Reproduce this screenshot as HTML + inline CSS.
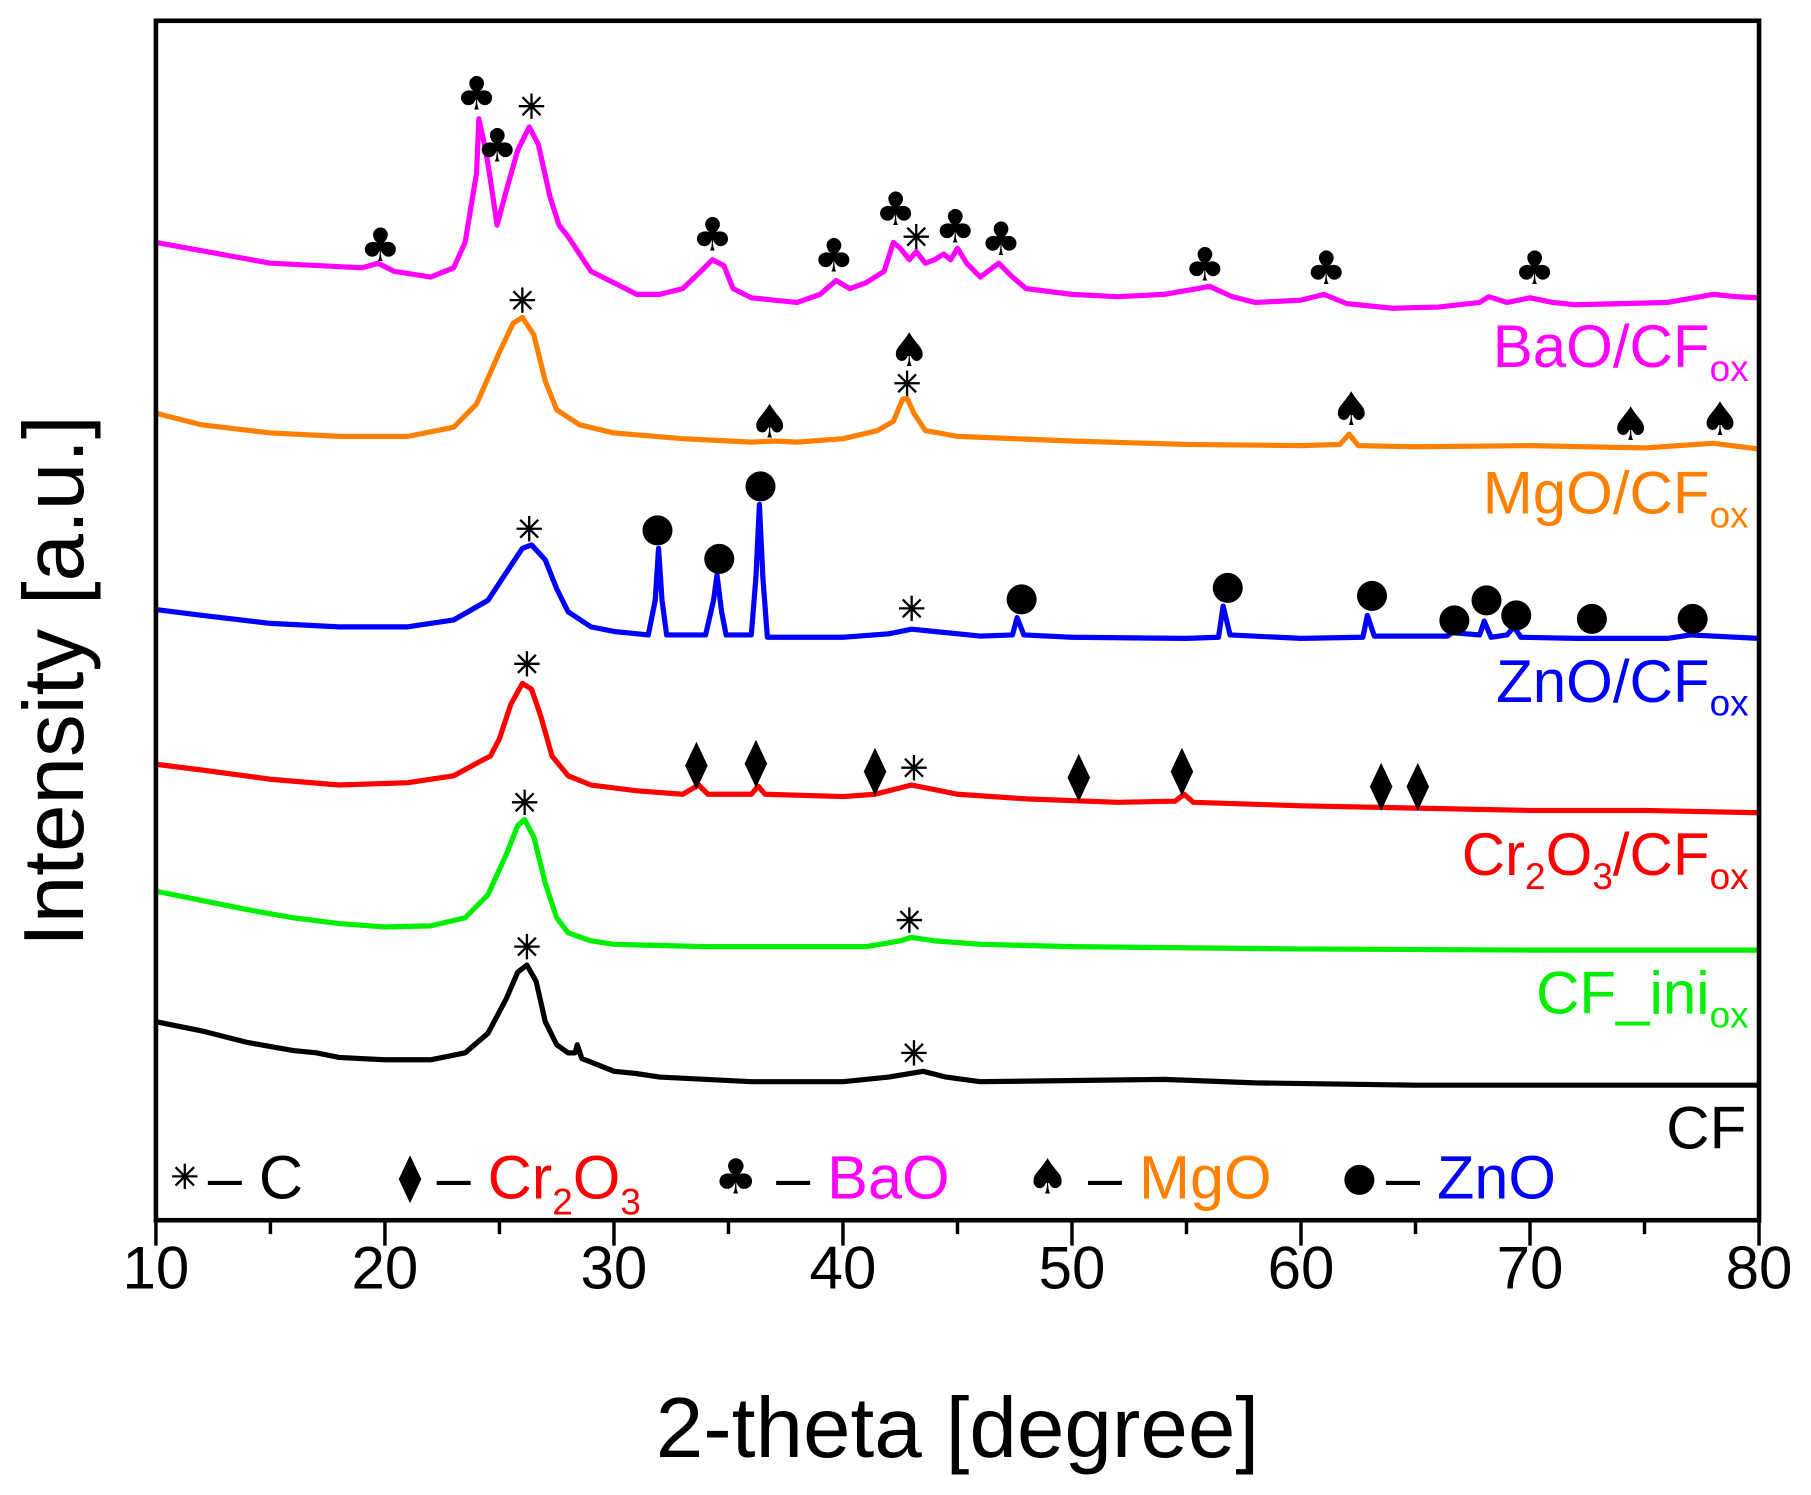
<!DOCTYPE html>
<html><head><meta charset="utf-8"><style>
html,body{margin:0;padding:0;background:#fff}
svg{display:block}
text{font-family:"Liberation Sans","DejaVu Sans",sans-serif}
.sym{font-family:"DejaVu Sans",sans-serif}
</style></head><body>
<svg id="chart" width="1811" height="1495" viewBox="0 0 1568 1295" preserveAspectRatio="none" xmlns="http://www.w3.org/2000/svg">
<g id="marks"></g>
<g id="axes"></g>
</svg>
<script>
// ---- data (2-theta, intensity a.u.; series are offset-stacked) ----
const baoX=[10,15,19,19.7,20.4,22,23,23.5,24,24.1,24.4,24.6,24.9,25.3,25.8,26.3,26.7,27.2,27.6,28,29,30,31,32,33,33.8,34.3,34.8,35.2,36,37,38,39,39.7,40.3,41,41.8,42.2,42.5,42.9,43.2,43.6,44,44.4,44.7,45,45.4,46,46.8,47.4,48,50,52,54,55.5,56,57,58,60,61,62,64,66,67.8,68.2,69,70,71,72,74,76,78,79,80];
const baoY=[847,829,825,829,822,817,825,847,907,954,927,902,862,892,927,947,932,887,862,852,822,812,802,802,807,822,832,827,807,799,797,795,802,814,807,812,822,847,842,832,839,829,832,837,832,842,829,817,829,817,807,802,800,802,807,809,800,795,797,802,794,790,791,795,800,795,799,795,793,794,795,802,800,799];
const mgoX=[10,12,15,18,21,23,24,25,25.6,26,26.5,27,27.5,28.5,30,33,36,37,38,40,41.5,42.2,42.6,42.8,43.1,43.6,45,50,55,60,61.7,62.1,62.5,65,70,75,78,80];
const mgoY=[699,689,682,679,679,687,707,752,777,782,767,727,702,689,682,677,674,675,674,677,684,692,711,712,699,684,679,675,672,671,672,681,671,670,671,669,673,668];
const znoX=[10,12,15,18,21,23,24.5,25.5,26,26.4,27,27.5,28,29,30,31.5,31.8,31.95,32.1,32.3,34,34.35,34.5,34.7,34.9,36,36.2,36.35,36.5,36.7,40,42,43,44,46,47.4,47.6,47.9,50,55,56.4,56.6,56.9,60,62.7,62.9,63.2,66.4,66.6,67.8,68,68.3,69,69.3,69.6,72,76,77,80];
const znoY=[529,524,517,514,514,520,537,567,582,585,572,547,527,514,510,507,537,582,537,507,507,537,559,527,507,507,557,620,557,505,505,508,512,510,506,507,522,507,505,504,505,532,507,504,505,524,506,506,509,507,519,505,507,514,505,504,504,507,504];
const crX=[10,12,15,18,21,23,24.3,24.6,25,25.5,26,26.4,26.8,27.3,28,29,31,33,33.7,34.1,36,36.3,36.6,40,41.4,42,43,44,45,48,52,54.5,54.9,55.3,60,65,70,75,80];
const crY=[395,390,382,377,379,385,399,402,417,447,465,460,437,402,385,377,372,369,377,369,369,376,369,367,369,372,377,373,369,365,362,363,369,362,359,357,355,355,353];
const iniX=[10,12,14,16,18,20,22,23.5,24.5,25.3,25.8,26.1,26.5,27,27.5,28,29,30,34,38,41,42.5,43,44,46,50,60,70,80];
const iniY=[285,277,269,262,257,254,255,262,282,317,342,347,332,292,262,249,242,239,237,237,237,242,245,242,239,237,235,234,234];
const cfX=[10,12,14,16,17,18,20,22,23.5,24.5,25.3,25.8,26.2,26.6,27,27.5,28,28.3,28.4,28.6,29,30,31,32,36,40,42,43.5,44.5,46,54,58,65,70,80];
const cfY=[172,164,154,147,145,141,139,139,145,162,192,215,221,207,172,152,145,145,152,140,137,129,127,124,120,120,124,129,124,120,122,119,117,117,117];
const xTicks=[10,20,30,40,50,60,70,80];
// markers: [2theta, intensity-position, symbol]
const markBao=[[19.8,844,"club"],[24.0,975,"club"],[24.9,930,"club"],[34.3,853,"club"],[39.6,835,"club"],[42.3,875,"club"],[44.9,860,"club"],[46.9,849,"club"],[55.8,827,"club"],[61.1,824,"club"],[70.2,824,"club"],[26.4,965,"star"],[43.2,852,"star"]];
const markMgo=[[26.0,797,"star"],[42.9,753,"spade"],[42.8,725,"star"],[36.8,691,"spade"],[62.2,702,"spade"],[74.4,689,"spade"],[78.3,693,"spade"]];
const markZno=[[26.3,599,"star"],[31.9,602,"dot"],[34.6,577,"dot"],[36.4,640,"dot"],[47.8,542,"dot"],[56.8,552,"dot"],[63.1,545,"dot"],[66.7,524,"dot"],[68.1,541,"dot"],[69.4,528,"dot"],[72.7,525,"dot"],[77.1,525,"dot"],[43.0,530,"star"]];
const markCr=[[26.2,482,"star"],[33.6,395,"diamond"],[36.2,397,"diamond"],[41.4,390,"diamond"],[50.3,385,"diamond"],[54.8,390,"diamond"],[63.5,377,"diamond"],[65.1,377,"diamond"],[43.1,392,"star"]];
const markIni=[[26.1,362,"star"],[42.9,260,"star"]];
const markCf=[[26.2,237,"star"],[43.1,145,"star"]];

// ---- axes ----
const L=135,R=1523,T=18,B=1057;
const xs=t=>L+(t-10)*(R-L)/70;
const ys=v=>B-v;
const NS="http://www.w3.org/2000/svg";
function mk(tag,attrs,parent){const e=document.createElementNS(NS,tag);for(const k in attrs)e.setAttribute(k,attrs[k]);parent.appendChild(e);return e;}
const marks=document.getElementById('marks'),axes=document.getElementById('axes');

function drawSeries(X,Y,color,name){
  let d=X.map((x,i)=>(i?'L':'M')+xs(x).toFixed(1)+','+ys(Y[i]).toFixed(1)).join('');
  const p=mk('path',{d:d,fill:'none',stroke:color,'stroke-width':4.5,'stroke-linejoin':'round'},marks);
  
  
}
drawSeries(baoX,baoY,'#ff00ff','bao-cfox-line');
drawSeries(mgoX,mgoY,'#ff8000','mgo-cfox-line');
drawSeries(znoX,znoY,'#0000ff','zno-cfox-line');
drawSeries(crX,crY,'#ff0000','cr2o3-cfox-line');
drawSeries(iniX,iniY,'#00ee00','cf-ini-line');
drawSeries(cfX,cfY,'#000000','cf-line');

const glyph={club:'\u2663',spade:'\u2660',diamond:'\u29EB',dot:'\u25CF'};
function star(cx,cy,s,parent){
  const g=mk('g',{stroke:'#000','stroke-width':2},parent);
  for(let a=0;a<4;a++){const an=a*Math.PI/4;mk('line',{x1:cx-s*Math.sin(an),y1:cy-s*Math.cos(an),x2:cx+s*Math.sin(an),y2:cy+s*Math.cos(an)},g);}
  return g;
}
function drawMarks(arr,name){
  arr.forEach(m=>{
    const x=xs(m[0]),y=ys(m[1]);let e;
    if(m[2]==='star'){e=star(x,y,11,marks);}
    else{e=mk('text',{x:x,y:y+13,'text-anchor':'middle','font-size':m[2]==='dot'?34:40,class:'sym',fill:'#000'},marks);e.textContent=glyph[m[2]];}
    
    
  });
}
drawMarks(markBao,'bao-peak-marker');drawMarks(markMgo,'mgo-peak-marker');drawMarks(markZno,'zno-peak-marker');
drawMarks(markCr,'cr2o3-peak-marker');drawMarks(markIni,'cf-ini-peak-marker');drawMarks(markCf,'cf-peak-marker');

// frame
const fr=mk('rect',{x:L,y:T,width:R-L,height:B-T,fill:'none',stroke:'#000','stroke-width':4},axes);


for(let t=10;t<=80;t+=5){
  const maj=t%10===0;
  const tk=mk('line',{x1:xs(t),x2:xs(t),y1:B,y2:B+(maj?22:12),stroke:'#000','stroke-width':3},axes);
  
  
}
xTicks.forEach(t=>{
  const tx=mk('text',{x:xs(t),y:1116,'text-anchor':'middle','font-size':52,fill:'#000'},axes);
  tx.textContent=t;
  
  
});
</script>
<script>
(function(){
const NS="http://www.w3.org/2000/svg",svg=document.getElementById('chart');
const s=`
<text x="829" y="1262" text-anchor="middle" font-size="74">2-theta [degree]</text>
<text transform="translate(72,590) rotate(-90)" text-anchor="middle" font-size="74">Intensity [a.u.]</text>
<text x="1514" y="318" text-anchor="end" font-size="52" fill="#ff00ff">BaO/CF<tspan font-size="32" dy="12">ox</tspan></text>
<text x="1514" y="445" text-anchor="end" font-size="52" fill="#ff8000">MgO/CF<tspan font-size="32" dy="12">ox</tspan></text>
<text x="1514" y="608" text-anchor="end" font-size="52" fill="#0000ff">ZnO/CF<tspan font-size="32" dy="12">ox</tspan></text>
<text x="1514" y="758" text-anchor="end" font-size="52" fill="#ff0000">Cr<tspan font-size="32" dy="12">2</tspan><tspan dy="-12">O</tspan><tspan font-size="32" dy="12">3</tspan><tspan dy="-12">/CF</tspan><tspan font-size="32" dy="12">ox</tspan></text>
<text x="1514" y="878" text-anchor="end" font-size="52" fill="#00ee00">CF_ini<tspan font-size="32" dy="12">ox</tspan></text>
<text x="1512" y="995" text-anchor="end" font-size="52" fill="#000">CF</text>
<g font-size="53">
<g stroke="#000" stroke-width="2"><line x1="160" y1="1008" x2="160" y2="1030"/><line x1="149" y1="1019" x2="171" y2="1019"/><line x1="152" y1="1011" x2="168" y2="1027"/><line x1="168" y1="1011" x2="152" y2="1027"/></g>
<text x="180" y="1038">– C</text>
<text class="sym" x="355" y="1033" text-anchor="middle" font-size="40">⧫</text>
<text x="378" y="1038">– <tspan fill="#ff0000">Cr</tspan><tspan fill="#ff0000" font-size="32" dy="14">2</tspan><tspan fill="#ff0000" dy="-14">O</tspan><tspan fill="#ff0000" font-size="32" dy="14">3</tspan></text>
<text class="sym" x="637" y="1034" text-anchor="middle" font-size="42">♣</text>
<text x="672" y="1038">– <tspan fill="#ff00ff">BaO</tspan></text>
<text class="sym" x="907" y="1034" text-anchor="middle" font-size="42">♠</text>
<text x="942" y="1038">– <tspan fill="#ff8000">MgO</tspan></text>
<text class="sym" x="1177" y="1031" text-anchor="middle" font-size="34">●</text>
<text x="1200" y="1038">– <tspan fill="#0000ff">ZnO</tspan></text>
</g>`;
const g=document.createElementNS(NS,'g');g.innerHTML=s;svg.appendChild(g);
})();
</script>
</body></html>
